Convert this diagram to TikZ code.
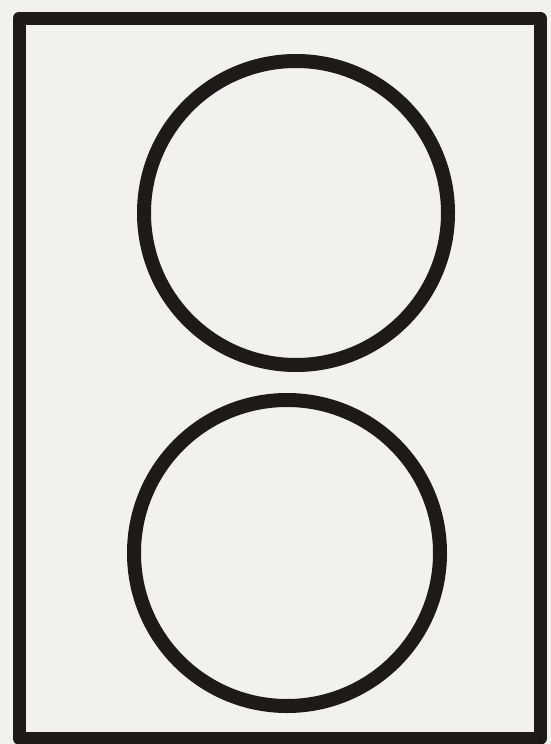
\documentclass[tikz,border=0pt]{standalone}
\definecolor{paper}{RGB}{241,241,237}
\definecolor{ink}{RGB}{30,26,26}
\begin{document}
\begin{tikzpicture}[x=1pt,y=-1pt,
  inkline/.style={draw=ink,line width=13pt},
  ring/.style={circle,draw=ink,line width=14pt,inner sep=0pt,minimum size=#1}]
\fill[paper] (0,0) rectangle (551,744);
\useasboundingbox (0,0) rectangle (551,744);
\draw[inkline,line join=round] (19,18) rectangle (540,738);
\node[ring=304pt] (top) at (296,213) {};
\node[ring=306pt] (bottom) at (287,553) {};
\end{tikzpicture}
\end{document}
